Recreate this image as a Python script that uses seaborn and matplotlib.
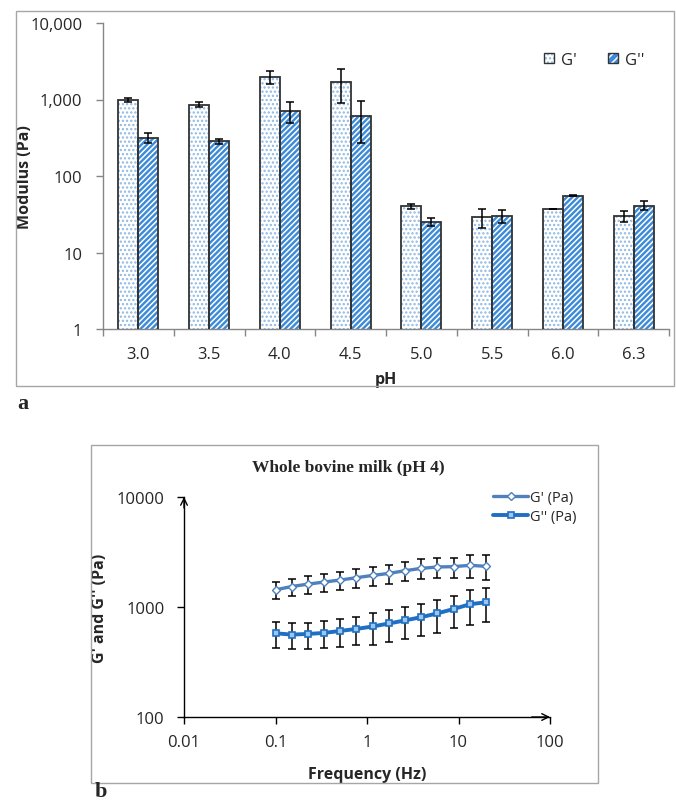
import numpy as np
import pandas as pd
import matplotlib
matplotlib.use("Agg")
import matplotlib.pyplot as plt
import seaborn as sns
from matplotlib.patches import Rectangle, Patch
from matplotlib.legend_handler import HandlerTuple
from matplotlib.ticker import NullLocator

# ---------------- data: panel a ----------------
ph_labels = ["3.0", "3.5", "4.0", "4.5", "5.0", "5.5", "6.0", "6.3"]
series_names = ["G'", "G''"]
g_storage = [1000, 860, 1990, 1690, 40, 29, 37, 30]
g_loss = [316, 287, 710, 608, 25, 30, 55, 41]
g_storage_err = [60, 60, 380, 800, 3, 8, 0.5, 5]
g_loss_err = [45, 22, 210, 340, 3, 5.5, 1, 5.5]
y_ticks_a = [1, 10, 100, 1000, 10000]
y_tick_labels_a = ["1", "10", "100", "1,000", "10,000"]

# ---------------- data: panel b ----------------
freq_hz = [0.1, 0.15, 0.226, 0.339, 0.51, 0.766, 1.15, 1.73, 2.6, 3.91, 5.88, 8.83, 13.3, 20.0]
gp_freq = [1432, 1535, 1614, 1686, 1759, 1846, 1937, 2020, 2138, 2245, 2311, 2327, 2392, 2343]
gp_freq_err = [245, 272, 302, 310, 338, 361, 377, 401, 430, 458, 475, 478, 549, 600]
gpp_freq = [577, 561, 569, 581, 606, 632, 665, 708, 755, 809, 875, 959, 1059, 1105]
gpp_freq_err = [152, 148, 150, 159, 175, 185, 210, 224, 244, 262, 289, 313, 370, 371]
line_labels = ["G' (Pa)", "G'' (Pa)"]
x_ticks_b = [0.01, 0.1, 1, 10, 100]
x_tick_labels_b = ["0.01", "0.1", "1", "10", "100"]
y_ticks_b = [100, 1000, 10000]
y_tick_labels_b = ["100", "1000", "10000"]

sns.set_theme(style="white")
plt.rcParams["font.family"] = ["Open Sans", "DejaVu Sans"]
plt.rcParams["hatch.linewidth"] = 1.1

W, H = 676, 803
fig = plt.figure(figsize=(W / 100, H / 100), dpi=100)


def fx(px):
    return px / W


def fy(py):
    return 1 - py / H


TICK_FS = 12
LABEL_FS = 11.5
GRAY = "#868686"

# ================= panel a =================
ax1 = fig.add_axes([fx(103), fy(330), fx(669) - fx(103), fy(24) - fy(330)])
df_a = pd.DataFrame({
    "pH": ph_labels * 2,
    "series": [series_names[0]] * len(ph_labels) + [series_names[1]] * len(ph_labels),
    "modulus": g_storage + g_loss,
})
ax1.set_yscale("log")
sns.barplot(data=df_a, x="pH", y="modulus", hue="series", order=ph_labels,
            hue_order=series_names, width=0.565, errorbar=None, legend=False,
            saturation=1, ax=ax1)

styles = [
    dict(face="white", hatch="....", hatchcol="#8fb8e3"),
    dict(face="#3d8ad8", hatch="//////", hatchcol="white"),
]
errs = [g_storage_err, g_loss_err]
vals = [g_storage, g_loss]
for i, cont in enumerate(ax1.containers[:2]):
    st = styles[i]
    xs = []
    for bar in cont:
        bar.set_facecolor(st["face"])
        bar.set_edgecolor(st["hatchcol"])
        bar.set_hatch(st["hatch"])
        bar.set_linewidth(0)
        outline = Rectangle((bar.get_x(), bar.get_y()), bar.get_width(), bar.get_height(),
                            fill=False, edgecolor="#333333", lw=1.3, zorder=3)
        ax1.add_patch(outline)
        xs.append(bar.get_x() + bar.get_width() / 2)
    ax1.errorbar(xs, vals[i], yerr=errs[i], fmt="none", ecolor="black",
                 elinewidth=1.1, capsize=3.2, capthick=1.1, zorder=4)

ax1.set_ylim(1, 10000)
ax1.set_xlim(-0.5, len(ph_labels) - 0.5)
ax1.set_yticks(y_ticks_a)
ax1.set_yticklabels(y_tick_labels_a, fontsize=TICK_FS)
ax1.yaxis.set_minor_locator(NullLocator())
ax1.set_xticks(np.arange(-0.5, len(ph_labels)), labels=[""] * (len(ph_labels) + 1))
ax1.set_xticks(np.arange(len(ph_labels)), labels=ph_labels, minor=True)
ax1.tick_params(axis="x", which="major", length=5, width=1, color=GRAY, direction="out", bottom=True)
ax1.tick_params(axis="x", which="minor", length=0, pad=12, labelsize=TICK_FS, bottom=True)
ax1.tick_params(axis="y", which="major", length=5, width=1, color=GRAY, direction="out", pad=10, left=True)
for s in ["top", "right"]:
    ax1.spines[s].set_visible(False)
for s in ["left", "bottom"]:
    ax1.spines[s].set_color(GRAY)
    ax1.spines[s].set_linewidth(1)
ax1.set_xlabel("pH", fontweight="bold", fontsize=LABEL_FS)
ax1.set_ylabel("Modulus (Pa)", fontweight="bold", fontsize=LABEL_FS)
ax1.xaxis.set_label_coords(0.5, (330 - 375) / 306 + 0.01)
ax1.yaxis.set_label_coords((33 - 103) / 566, 0.5)

handles = [
    (Patch(facecolor=styles[0]["face"], edgecolor=styles[0]["hatchcol"], hatch=styles[0]["hatch"], lw=0),
     Patch(fill=False, edgecolor="#333333", lw=1.0)),
    (Patch(facecolor=styles[1]["face"], edgecolor=styles[1]["hatchcol"], hatch="////", lw=0),
     Patch(fill=False, edgecolor="#333333", lw=1.0)),
]
ax1.legend(handles, series_names, handler_map={tuple: HandlerTuple(ndivide=1)},
           ncol=2, frameon=False, loc="center left", bbox_to_anchor=(fx(536), fy(61)),
           bbox_transform=fig.transFigure, borderpad=0, handlelength=0.55, handleheight=0.55,
           handletextpad=0.45, columnspacing=1.9, fontsize=TICK_FS)

fig.add_artist(Rectangle((fx(16), fy(387)), fx(674) - fx(16), fy(12) - fy(387),
                         transform=fig.transFigure, fill=False, edgecolor="#a6a6a6", lw=1))
fig.text(fx(17), fy(409), "a", family=["Liberation Serif", "DejaVu Serif"], fontweight="bold",
         fontsize=16, va="baseline", ha="left")

# ================= panel b =================
ax2 = fig.add_axes([fx(184), fy(718), fx(550) - fx(184), fy(498) - fy(718)])
ax2.set_xscale("log")
ax2.set_yscale("log")
C1 = "#4f81bd"
C2 = "#1f6fc2"
ax2.errorbar(freq_hz, gp_freq, yerr=gp_freq_err, fmt="none", ecolor="black",
             elinewidth=1.1, capsize=3.2, capthick=1.1, zorder=2)
ax2.errorbar(freq_hz, gpp_freq, yerr=gpp_freq_err, fmt="none", ecolor="black",
             elinewidth=1.1, capsize=3.2, capthick=1.1, zorder=2)
sns.lineplot(x=freq_hz, y=gp_freq, ax=ax2, color=C1, lw=2.4, marker="D", markersize=4.0,
             markerfacecolor="white", markeredgecolor=C1, markeredgewidth=1.0,
             label=line_labels[0], zorder=3)
sns.lineplot(x=freq_hz, y=gpp_freq, ax=ax2, color=C2, lw=2.8, marker="s", markersize=4.6,
             markerfacecolor="#9cc6ee", markeredgecolor=C2, markeredgewidth=1.2,
             label=line_labels[1], zorder=3)

ax2.set_xlim(0.01, 100)
ax2.set_ylim(100, 10000)
ax2.set_xticks(x_ticks_b)
ax2.set_xticklabels(x_tick_labels_b, fontsize=TICK_FS)
ax2.set_yticks(y_ticks_b)
ax2.set_yticklabels(y_tick_labels_b, fontsize=TICK_FS)
ax2.xaxis.set_minor_locator(NullLocator())
ax2.yaxis.set_minor_locator(NullLocator())
ax2.tick_params(axis="both", which="major", length=5, width=1, color="black", direction="out",
                bottom=True, left=True)
ax2.tick_params(axis="x", pad=7)
ax2.tick_params(axis="y", pad=9)
for s in ["top", "right"]:
    ax2.spines[s].set_visible(False)
for s in ["left", "bottom"]:
    ax2.spines[s].set_color("black")
    ax2.spines[s].set_linewidth(1)
ax2.annotate("", xy=(0, 1), xytext=(0, 0.95), xycoords="axes fraction",
             arrowprops=dict(arrowstyle="->", color="black", lw=1, shrinkA=0, shrinkB=0,
                             mutation_scale=12))
ax2.annotate("", xy=(1, 0), xytext=(0.95, 0), xycoords="axes fraction",
             arrowprops=dict(arrowstyle="->", color="black", lw=1, shrinkA=0, shrinkB=0,
                             mutation_scale=12))
ax2.set_xlabel("Frequency (Hz)", fontweight="bold", fontsize=LABEL_FS)
ax2.set_ylabel("G' and G'' (Pa)", fontweight="bold", fontsize=LABEL_FS)
ax2.xaxis.set_label_coords(0.5, (718 - 770) / 220 + 0.015)
ax2.yaxis.set_label_coords((108 - 184) / 366, 0.5)
ax2.legend(loc="upper left", bbox_to_anchor=(fx(486), fy(484)), bbox_transform=fig.transFigure,
           frameon=False, borderpad=0, fontsize=10.5, handlelength=2.4, handletextpad=0.1,
           labelspacing=0.25)

fig.text(fx(348), fy(468), "Whole bovine milk (pH 4)", family=["Liberation Serif", "DejaVu Serif"],
         fontweight="bold", fontsize=12.5, ha="center", va="center")
fig.add_artist(Rectangle((fx(91), fy(784)), fx(598) - fx(91), fy(446) - fy(784),
                         transform=fig.transFigure, fill=False, edgecolor="#a6a6a6", lw=1))
fig.text(fx(95), fy(797), "b", family=["Liberation Serif", "DejaVu Serif"], fontweight="bold",
         fontsize=16, va="baseline", ha="left")

fig.savefig("out.png", dpi=100)
